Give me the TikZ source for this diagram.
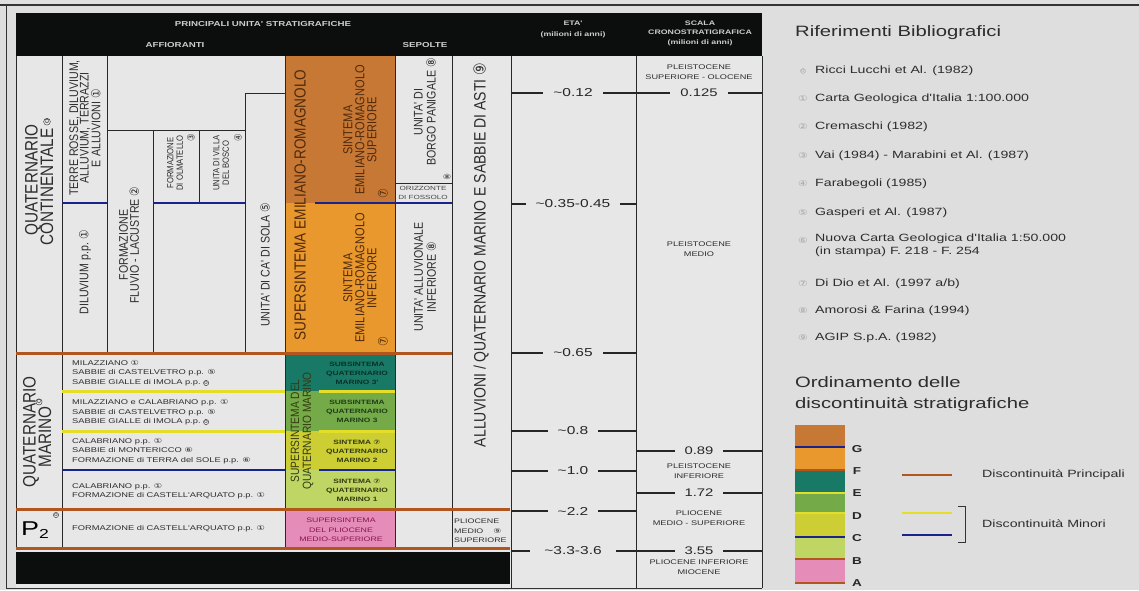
\documentclass[tikz,border=0pt]{standalone}
\usepackage{fontspec}
\setmainfont{Liberation Sans}
\newfontfamily\hfont[FakeStretch=1.35]{Liberation Sans}
\newfontfamily\vfont[FakeStretch=0.85]{Liberation Sans}
\newfontfamily\hsym[FakeStretch=1.35]{DejaVu Sans}
\newfontfamily\vsym[FakeStretch=0.85]{DejaVu Sans}
\newcommand{\cn}[1]{{\hsym #1}}
\newcommand{\cv}[1]{{\vsym #1}}
\newcommand{\hfs}[2]{\hfont\fontsize{#1}{#2}\selectfont}
\newcommand{\vfs}[2]{\vfont\fontsize{#1}{#2}\selectfont}
\usetikzlibrary{positioning}

\definecolor{bgc}{RGB}{222,222,222}
\definecolor{cellc}{RGB}{231,231,231}
\definecolor{gridc}{RGB}{40,40,40}
\definecolor{txtc}{RGB}{45,45,45}
\definecolor{headc}{RGB}{12,14,13}
\definecolor{headtxtc}{RGB}{205,205,205}
\definecolor{mainc}{RGB}{176,86,30}
\definecolor{yelc}{RGB}{228,222,40}
\definecolor{bluec}{RGB}{25,35,140}
\definecolor{ersup}{RGB}{198,120,52}
\definecolor{erinf}{RGB}{232,152,44}
\definecolor{erdark}{RGB}{80,42,12}
\definecolor{tealc}{RGB}{24,122,102}
\definecolor{greenc}{RGB}{116,170,72}
\definecolor{ygreenc}{RGB}{204,206,52}
\definecolor{lgreenc}{RGB}{192,214,100}
\definecolor{pinkc}{RGB}{229,140,184}
\definecolor{pinktxt}{RGB}{135,22,84}
\definecolor{tealtxt}{RGB}{10,48,40}
\definecolor{greentxt}{RGB}{30,62,24}
\definecolor{ygtxt}{RGB}{52,58,16}

\tikzset{
  gridline/.style={draw=gridc, line width=0.9pt},
  mainline/.style={draw=mainc, line width=3pt},
  minorY/.style={draw=yelc, line width=3pt},
  minorB/.style={draw=bluec, line width=2.4pt},
  vlab/.style={rotate=90, align=center, text=txtc, inner sep=0pt},
  hlab/.style={align=left, anchor=west, text=txtc, inner sep=0pt},
  rowtxt/.style={hlab, font=\hfs{6.9}{9.5}},
  zref/.style={circle, draw=txtc, text=txtc, line width=0.4pt, inner sep=0.2pt, font=\hfs{4.5}{4.5}},
  unitbox/.style={align=center, inner sep=0pt, font={\hfs{6.2}{9}\bfseries}},
  headtxt/.style={align=center, inner sep=0pt, text=headtxtc, font={\hfs{7.2}{10}\bfseries}},
  tick/.style={draw=black!85, line width=2.6pt},
  agelab/.style={fill=cellc, inner xsep=10pt, inner ysep=1pt, text=black!85, font=\hfs{11.5}{12}},
  chrono/.style={align=center, inner sep=0pt, text=txtc, font=\hfs{6.8}{9.5}},
  refnum/.style={inner sep=0pt, text=gray!70, font=\hsym\fontsize{8}{8}\selectfont},
  reftxt/.style={anchor=west, align=left, inner sep=0pt, text=txtc, font=\hfs{10.5}{13}},
  letter/.style={inner sep=0pt, text=black!85, font={\hfs{10}{10}\bfseries}},
}

\begin{document}
\begin{tikzpicture}[x=1pt, y=-1pt]
\useasboundingbox (0,0) rectangle (1139,590);
\fill[bgc] (0,0) rectangle (1139,590);
\draw[gray!40!black, line width=1.5pt] (0,5) -- (1139,5);
\draw[gray!40!black, line width=1pt] (6,5) -- (6,588) -- (762,588);

% table body and header
\fill[cellc] (16,56) rectangle (762,588);
\fill[headc] (16,13) rectangle (762,56);

\fill[ersup] (285,56) rectangle (395,203);
\fill[erinf] (285,203) rectangle (395,353);
\fill[tealc] (285,353) rectangle (395,391);
\fill[greenc] (285,391) rectangle (395,431);
\fill[ygreenc] (285,431) rectangle (395,470);
\fill[lgreenc] (285,470) rectangle (395,509);
\fill[pinkc] (285,509) rectangle (395,548);
\fill[headc] (16,552) rectangle (510,584);

\foreach \x/\ya/\yb in {16/56/548, 62/56/548, 107/56/353, 153/130/353, 199/130/203,
    245/93/353, 285/56/548, 395/56/548, 452/56/548, 511/56/588, 636/56/588, 762/56/588}
  \draw[gridline] (\x,\ya) -- (\x,\yb);
\draw[gridline] (107,130) -- (245,130) (245,93) -- (285,93) (395,183) -- (452,183);

% discontinuities
\draw[minorB] (62,203) -- (107,203) (153,203) -- (245,203) (315,203) -- (452,203);
\draw[mainline] (16,353) -- (452,353) (16,509) -- (510,509) (16,548) -- (510,548);
\draw[minorY] (62,391) -- (285,391) (319,391) -- (395,391) (62,431) -- (285,431) (319,431) -- (395,431);
\draw[minorB] (62,470) -- (285,470) (319,470) -- (395,470);

% header
\node[headtxt] (hPrinc) at (263,24) {PRINCIPALI UNITA' STRATIGRAFICHE};
\node[headtxt] (hAff) at (175,45) {AFFIORANTI};
\node[headtxt] (hSep) at (425,45) {SEPOLTE};
\node[headtxt, font={\hfs{6.5}{11}\bfseries}] (hEta) at (573,29) {ETA'\\(milioni di anni)};
\node[headtxt, font={\hfs{6.5}{9.5}\bfseries}] (hScala) at (700,33) {SCALA\\CRONOSTRATIGRAFICA\\(milioni di anni)};

% affioranti
\node[vlab, font=\vfs{18}{14.5}] (qCont1) at (33,180) {QUATERNARIO};
\node[vlab, font=\vfs{18}{14.5}] (qCont2) at (47,187) {CONTINENTALE};
\node[zref, rotate=90, anchor=west, font=\hfs{6}{6}] (qContRef) at ([yshift=3pt]qCont2.east) {0};
\node[vlab, font=\vfs{12.5}{10.5}] (terre) at (85,128) {TERRE ROSSE, DILUVIUM,\\ALLUVIUM, TERRAZZI\\E ALLUVIONI \cv{①}};
\node[vlab, font=\vfs{12.5}{11}] (diluv) at (85,272) {DILUVIUM p.p. \cv{①}};
\node[vlab, font=\vfs{12.5}{11}] (fluvio) at (129,245) {FORMAZIONE\\FLUVIO - LACUSTRE \cv{②}};
\node[vlab, font=\vfs{9}{9.5}] (olmat) at (175,163) {FORMAZIONE\\DI OLMATELLO};
\node[vlab, font=\vfs{10}{10}] (olmatRef) at (191,138) {\cv{③}};
\node[vlab, font=\vfs{9}{9.5}] (villa) at (221,163) {UNITA DI VILLA\\DEL BOSCO};
\node[vlab, font=\vfs{10}{10}] (villaRef) at (238,138) {\cv{④}};
\node[vlab, font=\vfs{12.5}{11}] (sola) at (265,265) {UNITA' DI CA' DI SOLA \cv{⑤}};

\node[vlab, text=erdark, font=\vfs{16}{16}] (superER) at (300,205) {SUPERSINTEMA EMILIANO-ROMAGNOLO};
\node[vlab, text=erdark, font=\vfs{13}{12}] (erSup) at (360,130) {SINTEMA\\EMILIANO-ROMAGNOLO\\SUPERIORE};
\node[vlab, text=erdark, font=\vfs{13}{13}] (erSupRef) at (383,194) {\cv{⑦}};
\node[vlab, text=erdark, font=\vfs{13}{12}] (erInf) at (360,278) {SINTEMA\\EMILIANO-ROMAGNOLO\\INFERIORE};
\node[vlab, text=erdark, font=\vfs{13}{13}] (erInfRef) at (383,342) {\cv{⑦}};

% sepolte
\node[vlab, font=\vfs{12.5}{13}] (borgo) at (425,112) {UNITA' DI\\BORGO PANIGALE \cv{⑧}};
\node[inner sep=0pt, text=txtc, font=\hsym\fontsize{7}{7}\selectfont] (fossRef) at (447,177) {⑧};
\node[align=center, inner sep=0pt, text=gray!55!black, font=\hfs{6}{8.5}] (fossolo) at (423,193) {ORIZZONTE\\DI FOSSOLO};
\node[vlab, font=\vfs{12.5}{13}] (allInf) at (425,277) {UNITA' ALLUVIONALE\\INFERIORE \cv{⑧}};
\node[vlab, font=\vfs{16.5}{16}] (alluv) at (481,255) {ALLUVIONI / QUATERNARIO MARINO E SABBIE DI ASTI \cv{⑨}};

% quaternario marino
\node[vlab, font=\vfs{18}{13.5}] (qMar1) at (31,432) {QUATERNARIO};
\node[vlab, font=\vfs{18}{13.5}] (qMar2) at (45,437) {MARINO};
\node[zref, rotate=90, anchor=west, font=\hfs{5.5}{5.5}] (qMarRef) at ([xshift=-6pt, yshift=1pt]qMar2.east) {0};
\node[inner sep=0pt, text=black, font=\hfs{20}{20}] (pTwo) at (35,530) {P\raisebox{-3pt}{\fontsize{13}{13}\selectfont 2}};
\node[zref, font=\hfs{4.5}{4.5}] (pTwoRef) at (56,515) {0};

\node[rowtxt] (mil) at (72,368) {MILAZZIANO \cn{①}\\SABBIE di CASTELVETRO p.p. \cn{⑤}};
\node[rowtxt] (milImola) at (72,383) {SABBIE GIALLE di IMOLA p.p.};
\node[zref, right=2.5pt of milImola] (milImolaRef) {0};
\node[rowtxt] (milCal) at (72,407.5) {MILAZZIANO e CALABRIANO p.p. \cn{①}\\SABBIE di CASTELVETRO p.p. \cn{⑤}};
\node[rowtxt] (milCalImola) at (72,422) {SABBIE GIALLE di IMOLA p.p.};
\node[zref, right=2.5pt of milCalImola] (milCalImolaRef) {0};
\node[rowtxt] (cal) at (72,451) {CALABRIANO p.p. \cn{①}\\SABBIE di MONTERICCO \cn{⑥}\\FORMAZIONE di TERRA del SOLE p.p. \cn{⑥}};
\node[rowtxt] (calFor) at (72,491) {CALABRIANO p.p. \cn{①}\\FORMAZIONE di CASTELL'ARQUATO p.p. \cn{①}};
\node[rowtxt] (castell) at (72,529) {FORMAZIONE di CASTELL'ARQUATO p.p. \cn{①}};

\node[vlab, text=ygtxt, font=\vfs{12}{12}] (superQM) at (302,431) {SUPERSINTEMA DEL\\QUATERNARIO MARINO};
\node[unitbox, text=tealtxt] (sub3p) at (357,373) {SUBSINTEMA\\QUATERNARIO\\MARINO 3'};
\node[unitbox, text=greentxt] (sub3) at (357,411) {SUBSINTEMA\\QUATERNARIO\\MARINO 3};
\node[unitbox, text=ygtxt] (sin2) at (357,451) {SINTEMA \cn{⑦}\\QUATERNARIO\\MARINO 2};
\node[unitbox, text=ygtxt] (sin1) at (357,490) {SINTEMA \cn{⑦}\\QUATERNARIO\\MARINO 1};
\node[unitbox, text=pinktxt, font=\hfs{6.5}{9.5}] (plioSup) at (341,530) {SUPERSINTEMA\\DEL PLIOCENE\\MEDIO-SUPERIORE};
\node[hlab, font=\hfs{6.6}{9.5}] (plioMS) at (454,531) {PLIOCENE\\MEDIO\hspace{10pt}\cn{⑨}\\SUPERIORE};

% eta and scala
\draw[tick] (511,93) -- (762,93);
\node[agelab] (a012) at (573,93) {\textasciitilde0.12};
\node[agelab, font=\hfs{11}{12}] (c0125) at (699,93) {0.125};
\foreach \y/\lab/\nm in {204/0.35-0.45/a035, 353/0.65/a065, 431/0.8/a08, 471/1.0/a10, 511/2.2/a22} {
  \draw[tick] (511,\y) -- (636,\y);
  \node[agelab] (\nm) at (573,\y) {\textasciitilde\lab};
}
\draw[tick] (511,551) -- (762,551);
\node[agelab, inner xsep=14pt] (a33) at (573,551) {\textasciitilde3.3-3.6};
\node[agelab, font=\hfs{11}{12}] (c355) at (699,551) {3.55};
\draw[tick] (636,451) -- (762,451);
\node[agelab, font=\hfs{11}{12}] (c089) at (699,451) {0.89};
\draw[tick] (636,493) -- (762,493);
\node[agelab, font=\hfs{11}{12}] (c172) at (699,493) {1.72};

\node[chrono] (pSup) at (699,72) {PLEISTOCENE\\SUPERIORE - OLOCENE};
\node[chrono] (pMed) at (699,249) {PLEISTOCENE\\MEDIO};
\node[chrono] (pInf) at (699,471) {PLEISTOCENE\\INFERIORE};
\node[chrono] (plMS) at (699,518) {PLIOCENE\\MEDIO - SUPERIORE};
\node[chrono] (plInf) at (699,567) {PLIOCENE INFERIORE\\MIOCENE};

% riferimenti
\node[anchor=west, inner sep=0pt, text=txtc, font=\hfs{15}{18}] (rifTitle) at (795,33) {Riferimenti Bibliografici};
\node[zref, draw=gray!70, text=gray!70, font=\hfs{4.2}{4.2}] (r0) at (803,71) {0};
\node[reftxt] (t0) at (815,71) {Ricci Lucchi et Al. (1982)};
\node[refnum] (r1) at (803,99) {①};
\node[reftxt] (t1) at (815,99) {Carta Geologica d'Italia 1:100.000};
\node[refnum] (r2) at (803,127) {②};
\node[reftxt] (t2) at (815,127) {Cremaschi (1982)};
\node[refnum] (r3) at (803,156) {③};
\node[reftxt] (t3) at (815,156) {Vai (1984) - Marabini et Al. (1987)};
\node[refnum] (r4) at (803,184) {④};
\node[reftxt] (t4) at (815,184) {Farabegoli (1985)};
\node[refnum] (r5) at (803,213) {⑤};
\node[reftxt] (t5) at (815,213) {Gasperi et Al. (1987)};
\node[refnum] (r6) at (803,241) {⑥};
\node[reftxt, anchor=north west] (t6) at (815,234) {Nuova Carta Geologica d'Italia 1:50.000\\(in stampa) F. 218 - F. 254};
\node[refnum] (r7) at (803,284) {⑦};
\node[reftxt] (t7) at (815,284) {Di Dio et Al. (1997 a/b)};
\node[refnum] (r8) at (803,311) {⑧};
\node[reftxt] (t8) at (815,311) {Amorosi \& Farina (1994)};
\node[refnum] (r9) at (803,338) {⑨};
\node[reftxt] (t9) at (815,338) {AGIP S.p.A. (1982)};

% ordinamento
\node[anchor=west, align=left, inner sep=0pt, text=txtc, font=\hfs{15}{21}] (ordTitle) at (795,394) {Ordinamento delle\\discontinuità stratigrafiche};
\fill[ersup] (795,425) rectangle (845,447);
\fill[erinf] (795,447) rectangle (845,470);
\fill[tealc] (795,470) rectangle (845,493);
\fill[greenc] (795,493) rectangle (845,513);
\fill[ygreenc] (795,513) rectangle (845,537);
\fill[lgreenc] (795,537) rectangle (845,559);
\fill[pinkc] (795,559) rectangle (845,583);
\draw[minorB, line width=1.8pt] (795,447) -- (845,447) (795,537) -- (845,537);
\draw[mainline, line width=2.2pt] (795,470) -- (845,470) (795,559) -- (845,559) (795,583) -- (845,583);
\draw[minorY, line width=2pt] (795,493) -- (845,493) (795,513) -- (845,513);
\node[letter] (lG) at (857,449) {G};
\node[letter] (lF) at (857,471) {F};
\node[letter] (lE) at (857,493) {E};
\node[letter] (lD) at (857,516) {D};
\node[letter] (lC) at (857,538) {C};
\node[letter] (lB) at (857,561) {B};
\node[letter] (lA) at (857,583) {A};

\draw[mainline, line width=2.5pt] (902,475) -- (952,475);
\draw[minorY, line width=2.5pt] (902,513) -- (952,513);
\draw[minorB, line width=2pt] (902,535) -- (952,535);
\draw[black!80, line width=0.8pt] (958,506) -- (965,506) -- (965,542) -- (958,542);
\node[anchor=west, inner sep=0pt, text=txtc, font=\hfs{10.5}{12}] (dPrinc) at (982,475) {Discontinuità Principali};
\node[anchor=west, inner sep=0pt, text=txtc, font=\hfs{10.5}{12}] (dMin) at (982,524) {Discontinuità Minori};
\end{tikzpicture}
\end{document}
